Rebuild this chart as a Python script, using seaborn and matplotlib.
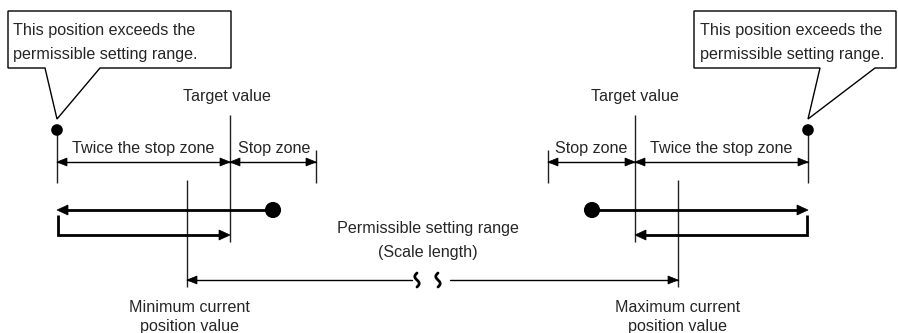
import matplotlib
matplotlib.use("Agg")
import matplotlib.pyplot as plt
import seaborn as sns
import numpy as np
import pandas as pd
from matplotlib.patches import Polygon

sns.set_theme(style="white")
plt.rcParams['font.family'] = ['Liberation Sans', 'DejaVu Sans']

# ---- data (diagram anchor positions, pixel scale) ----
callout_text = ["This position exceeds the", "permissible setting range."]
zone_labels = ["Twice the stop zone", "Stop zone"]
target_label = "Target value"
range_label = ["Permissible setting range", "(Scale length)"]
min_label = ["Minimum current", "position value"]
max_label = ["Maximum current", "position value"]

exceed_x = [57, 808]        # positions beyond the range
target_x = [230, 635]       # target values
stopzone_x = [316, 548]     # stop zone edges
current_x = [187, 678]      # min / max current position
start_x = [273, 592]        # starting points

W, H = 898, 333
fig = plt.figure(figsize=(W / 100, H / 100), dpi=100)
ax = fig.add_axes([0, 0, 1, 1])
ax.set_xlim(0, W)
ax.set_ylim(H, 0)
ax.axis("off")

FS = 11.6
K = "black"
THIN = 1.0
THICK = 2.0


def head(ax, x, y, d, L=10, hw=4):
    """filled arrow head, tip at (x, y), d=+1 right, -1 left"""
    pts = [(x, y), (x - d * L, y - hw), (x - d * L, y + hw)]
    ax.add_patch(Polygon(pts, closed=True, facecolor=K, edgecolor=K, lw=0.5, zorder=5))


def vline(x, y0, y1, lw=THIN):
    ax.plot([x, x], [y0, y1], color="#222", lw=lw, solid_capstyle="butt")


def callout(x0, x1, y0, y1, b0, b1, tip, tx):
    pts = [(x0, y0), (x1, y0), (x1, y1), (b1, y1), tip, (b0, y1), (x0, y1)]
    ax.add_patch(Polygon(pts, closed=True, facecolor="white", edgecolor=K, lw=1.0, zorder=3))
    ax.text(tx, 30, callout_text[0], fontsize=FS, va="center", ha="left", zorder=4)
    ax.text(tx, 55, callout_text[1], fontsize=FS, va="center", ha="left", zorder=4)


# callouts
callout(8, 231, 11, 68, 45, 100, (exceed_x[0], 119), 13)
callout(694, 896, 11, 68, 820, 875, (exceed_x[1], 119), 700)

# dots (seaborn scatter)
dots = pd.DataFrame({"x": exceed_x + start_x, "y": [130, 130, 210, 210],
                     "s": ["small", "small", "big", "big"]})
sns.scatterplot(data=dots, x="x", y="y", size="s", sizes={"small": 70, "big": 135},
                color=K, legend=False, ax=ax, zorder=6, linewidth=0)

# ---------- left side ----------
vline(exceed_x[0], 130, 183)
vline(target_x[0], 115, 242)
vline(stopzone_x[0], 150, 183)
vline(current_x[0], 180, 287)

# dimension arrows
ax.plot([exceed_x[0], target_x[0]], [162, 162], color=K, lw=THIN)
head(ax, exceed_x[0], 162, -1)
head(ax, target_x[0], 162, 1)
ax.plot([target_x[0], stopzone_x[0]], [162, 162], color=K, lw=THIN)
head(ax, target_x[0], 162, -1)
head(ax, stopzone_x[0], 162, 1)
ax.text((exceed_x[0] + target_x[0]) / 2, 148, zone_labels[0], fontsize=FS, ha="center", va="center")
ax.text((target_x[0] + stopzone_x[0]) / 2 + 1, 148, zone_labels[1], fontsize=FS, ha="center", va="center")
ax.text(target_x[0] - 3, 97, target_label, fontsize=FS, ha="center", va="center")

# thick movement arrows
ax.plot([start_x[0], exceed_x[0] + 6], [210, 210], color=K, lw=THICK, solid_capstyle="butt")
head(ax, exceed_x[0], 210, -1, L=11, hw=5)
ax.plot([exceed_x[0] + 1, exceed_x[0] + 1, target_x[0] - 6], [215, 235, 235], color=K, lw=THICK,
        solid_joinstyle="miter", solid_capstyle="butt")
head(ax, target_x[0], 235, 1, L=11, hw=5)

# ---------- right side ----------
vline(exceed_x[1], 130, 183)
vline(target_x[1], 115, 242)
vline(stopzone_x[1], 150, 183)
vline(current_x[1], 180, 287)

ax.plot([target_x[1], exceed_x[1]], [162, 162], color=K, lw=THIN)
head(ax, target_x[1], 162, -1)
head(ax, exceed_x[1], 162, 1)
ax.plot([stopzone_x[1], target_x[1]], [162, 162], color=K, lw=THIN)
head(ax, stopzone_x[1], 162, -1)
head(ax, target_x[1], 162, 1)
ax.text((target_x[1] + exceed_x[1]) / 2, 148, zone_labels[0], fontsize=FS, ha="center", va="center")
ax.text((stopzone_x[1] + target_x[1]) / 2, 148, zone_labels[1], fontsize=FS, ha="center", va="center")
ax.text(target_x[1], 97, target_label, fontsize=FS, ha="center", va="center")

ax.plot([start_x[1], exceed_x[1] - 6], [210, 210], color=K, lw=THICK, solid_capstyle="butt")
head(ax, exceed_x[1], 210, 1, L=11, hw=5)
ax.plot([exceed_x[1] - 1, exceed_x[1] - 1, target_x[1] + 6], [215, 235, 235], color=K, lw=THICK,
        solid_joinstyle="miter", solid_capstyle="butt")
head(ax, target_x[1], 235, -1, L=11, hw=5)

# ---------- permissible range ----------
ax.plot([current_x[0], 412], [280, 280], color=K, lw=THIN)
ax.plot([450, current_x[1]], [280, 280], color=K, lw=THIN)
head(ax, current_x[0], 280, -1)
head(ax, current_x[1], 280, 1)
s = np.linspace(0, 1, 40)
for x0 in (417, 438):
    ax.plot(x0 + 2.2 * np.sin(2 * np.pi * s + np.pi), 273 + 14 * s, color=K, lw=2.0,
            solid_capstyle="round")
ax.text(428, 229, range_label[0], fontsize=FS, ha="center", va="center")
ax.text(428, 253, range_label[1], fontsize=FS, ha="center", va="center")

ax.text(current_x[0] + 2, 307, min_label[0], fontsize=FS, ha="center", va="center")
ax.text(current_x[0] + 2, 327, min_label[1], fontsize=FS, ha="center", va="center")
ax.text(current_x[1], 307, max_label[0], fontsize=FS, ha="center", va="center")
ax.text(current_x[1], 327, max_label[1], fontsize=FS, ha="center", va="center")

fig.savefig("out.png", dpi=100, facecolor="white")
